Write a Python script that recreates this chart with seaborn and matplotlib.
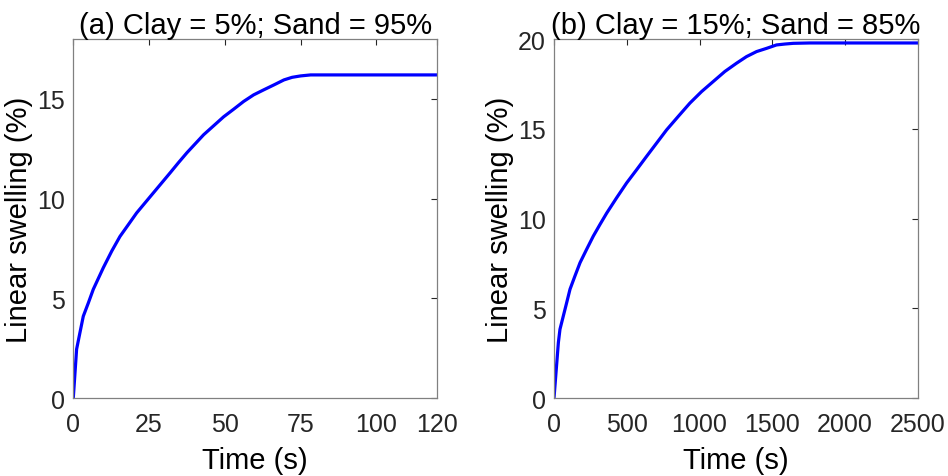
import matplotlib
matplotlib.use("Agg")
import matplotlib.pyplot as plt
import seaborn as sns
import pandas as pd

# (a) Clay 5% / Sand 95%
time_a = [0, 1.1, 2.2, 3.3, 5.0, 6.6, 9.9, 12.7, 15.4, 18.2, 20.9, 25.4, 28.7,
          32, 34.7, 37.5, 43, 46.3, 49.6, 52.9, 56.2, 59.5, 62.8, 66.2, 69.5,
          72.2, 75, 78.3, 120]
swell_a = [0, 2.45, 3.28, 4.1, 4.78, 5.45, 6.53, 7.37, 8.1, 8.7, 9.28, 10.1,
           10.7, 11.3, 11.8, 12.3, 13.2, 13.65, 14.1, 14.48, 14.87, 15.2, 15.45,
           15.7, 15.95, 16.08, 16.15, 16.2, 16.2]

# (b) Clay 15% / Sand 85%
time_b = [0, 30, 41, 64, 87, 110, 144, 179, 224, 270, 316, 362, 430, 499, 568,
          636, 705, 774, 854, 934, 1014, 1094, 1174, 1254, 1323, 1392, 1461,
          1529, 1586, 1644, 1758, 2500]
swell_b = [0, 3.09, 3.83, 4.57, 5.31, 6.06, 6.8, 7.54, 8.28, 9.02, 9.67, 10.3,
           11.15, 11.98, 12.72, 13.46, 14.2, 14.94, 15.69, 16.43, 17.07, 17.63,
           18.19, 18.65, 19.02, 19.3, 19.48, 19.67, 19.72, 19.76, 19.78, 19.78]

titles = ["(a) Clay = 5%; Sand = 95%", "(b) Clay = 15%; Sand = 85%"]
xticks = [[0, 25, 50, 75, 100, 120], [0, 500, 1000, 1500, 2000, 2500]]
yticks = [[0, 5, 10, 15], [0, 5, 10, 15, 20]]
xlims = [(0, 120), (0, 2500)]
ylims = [(0, 18), (0, 20)]

sns.set_style("white")
plt.rcParams["font.family"] = ["Liberation Sans", "DejaVu Sans"]

fig = plt.figure(figsize=(9.48, 4.77), dpi=100)
axes = [fig.add_axes([0.0773, 0.1635, 0.3837, 0.7526]),
        fig.add_axes([0.5844, 0.1635, 0.3837, 0.7526])]

frames = [pd.DataFrame({"t": time_a, "s": swell_a}),
          pd.DataFrame({"t": time_b, "s": swell_b})]

for i, ax in enumerate(axes):
    sns.lineplot(data=frames[i], x="t", y="s", ax=ax, color="#0000ff",
                 linewidth=2.3, estimator=None, sort=False)
    ax.set_xlim(*xlims[i])
    ax.set_ylim(*ylims[i])
    ax.set_xticks(xticks[i])
    ax.set_yticks(yticks[i])
    ax.set_xlabel("Time (s)", fontsize=21, color="black", labelpad=7)
    ax.set_ylabel("Linear swelling (%)", fontsize=21, color="black", labelpad=3)
    ax.set_title(titles[i], fontsize=21, color="black", pad=4)
    ax.tick_params(axis="both", which="major", direction="in", length=4,
                   width=0.8, color="#262626", labelsize=18,
                   labelcolor="#262626", top=True, right=True)
    ax.tick_params(axis="x", pad=10)
    ax.tick_params(axis="y", pad=6)
    for sp in ax.spines.values():
        sp.set_visible(True)
        sp.set_color("#808080")
        sp.set_linewidth(0.9)

fig.savefig("out.png", dpi=100, facecolor="white")
